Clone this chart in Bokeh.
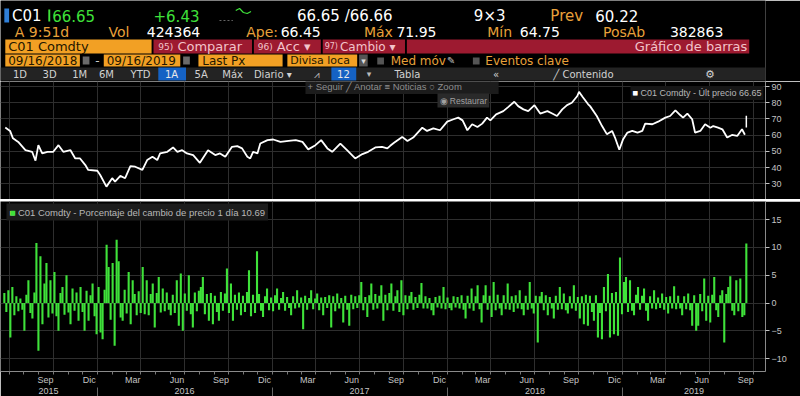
import pandas as pd
from bokeh.plotting import figure
from bokeh.layouts import column
from bokeh.models import Range1d, FixedTicker, Label, LinearAxis
from bokeh.core.properties import value
from bokeh.embed import file_html
from bokeh.resources import INLINE

# ---------------- data ----------------
price_dates = [
    "2015-06-23", "2015-07-03", "2015-07-09", "2015-07-20", "2015-08-04", "2015-08-18", "2015-08-25", "2015-08-31", "2015-09-08", "2015-09-19",
    "2015-10-01", "2015-10-12", "2015-10-22", "2015-11-06", "2015-11-16", "2015-11-26", "2015-12-07", "2015-12-13", "2016-01-01", "2016-01-07",
    "2016-01-20", "2016-02-01", "2016-02-07", "2016-02-18", "2016-02-28", "2016-03-10", "2016-03-20", "2016-04-04", "2016-04-14", "2016-04-25",
    "2016-05-05", "2016-05-11", "2016-05-26", "2016-06-07", "2016-06-16", "2016-06-26", "2016-07-06", "2016-07-19", "2016-08-02", "2016-08-19",
    "2016-09-03", "2016-09-13", "2016-09-24", "2016-10-08", "2016-10-19", "2016-10-29", "2016-11-09", "2016-11-15", "2016-11-21", "2016-11-30",
    "2016-12-06", "2016-12-21", "2017-01-02", "2017-01-17", "2017-02-03", "2017-02-18", "2017-03-04", "2017-03-16", "2017-03-31", "2017-04-12",
    "2017-04-25", "2017-05-05", "2017-05-22", "2017-06-05", "2017-06-22", "2017-07-07", "2017-07-19", "2017-08-03", "2017-08-17", "2017-08-28",
    "2017-09-03", "2017-09-11", "2017-09-28", "2017-10-09", "2017-10-21", "2017-11-09", "2017-11-19", "2017-12-02", "2017-12-16", "2017-12-31",
    "2018-01-13", "2018-01-23", "2018-02-01", "2018-02-11", "2018-02-21", "2018-03-04", "2018-03-14", "2018-03-24", "2018-03-31", "2018-04-12",
    "2018-04-27", "2018-05-07", "2018-05-20", "2018-05-28", "2018-06-08", "2018-06-18", "2018-07-01", "2018-07-13", "2018-07-28", "2018-08-07",
    "2018-08-17", "2018-08-28", "2018-09-07", "2018-09-17", "2018-09-28", "2018-10-02", "2018-10-10", "2018-10-21", "2018-10-25", "2018-11-08",
    "2018-11-19", "2018-11-29", "2018-12-10", "2018-12-16", "2018-12-25", "2019-01-02", "2019-01-11", "2019-01-21", "2019-02-01", "2019-02-11",
    "2019-02-17", "2019-03-04", "2019-03-16", "2019-03-31", "2019-04-10", "2019-04-21", "2019-05-01", "2019-05-07", "2019-05-16", "2019-05-26",
    "2019-06-01", "2019-06-12", "2019-06-22", "2019-07-03", "2019-07-09", "2019-07-19", "2019-07-28", "2019-08-07", "2019-08-17", "2019-08-28",
    "2019-09-07", "2019-09-13",
]
price_values = [
    64.7, 62.6, 58.0, 55.8, 50.7, 49.7, 44.2, 53.8, 48.7, 49.7,
    49.7, 53.8, 49.7, 50.7, 45.6, 45.6, 41.5, 38.5, 38.0, 35.4,
    28.2, 33.4, 31.3, 34.8, 33.4, 40.9, 40.5, 38.5, 44.6, 46.6,
    44.6, 48.7, 49.7, 52.4, 49.7, 50.7, 48.7, 47.7, 42.9, 50.7,
    47.7, 48.7, 46.6, 52.8, 53.2, 51.8, 46.6, 45.6, 49.7, 48.7,
    54.8, 56.9, 57.3, 55.8, 56.4, 56.9, 55.8, 51.2, 53.8, 56.9,
    51.8, 49.7, 54.8, 50.7, 45.6, 48.3, 49.7, 52.4, 52.8, 51.8,
    53.4, 55.3, 58.9, 56.4, 58.5, 64.6, 62.6, 64.2, 63.0, 68.3,
    69.8, 70.8, 69.1, 63.0, 66.7, 65.0, 67.1, 70.8, 69.1, 72.8,
    74.8, 77.3, 80.6, 77.9, 75.9, 74.8, 78.5, 73.3, 74.8, 73.3,
    71.8, 75.9, 78.5, 80.0, 84.0, 86.7, 83.4, 79.0, 77.9, 71.8,
    65.6, 60.6, 62.6, 58.5, 51.0, 57.5, 61.6, 62.6, 61.6, 62.6,
    67.1, 66.7, 68.3, 70.8, 71.8, 75.3, 72.4, 70.8, 73.3, 69.8,
    61.6, 62.6, 66.7, 64.6, 65.6, 64.6, 63.6, 58.5, 60.1, 59.5,
    63.6, 60.22,
]
last_date = "2019-09-16"
last_low, last_high, last_px = 64.75, 71.95, 66.65

pct_first, pct_last = "2015-06-21", "2019-09-16"
pct_values = [
    1.8, -1.6, 2.3, -6.2, 2.9, -2.2, 1.2, -1.5, 0.8, -1.2,
    -5.0, 1.5, 4.1, -1.8, -2.8, 1.9, 10.8, -8.6, 8.4, -3.8,
    3.5, 7.2, -2.6, 4.1, -1.9, 5.6, -2.4, -5.0, 1.8, 2.9,
    -2.1, 5.0, -1.7, -3.8, 2.6, -1.4, 1.9, -3.2, 2.9, -1.6,
    -5.0, 2.2, -3.2, 1.4, 3.5, -2.4, -5.6, 2.9, -5.3, -6.5,
    2.4, 10.5, 6.5, -3.0, 7.2, -7.7, 11.4, 7.5, -2.6, -3.2,
    2.4, -1.9, 5.6, -3.8, 4.1, 1.6, -2.2, 2.1, -1.8, 6.5,
    -2.0, 4.1, -2.2, 1.6, 3.5, -4.4, 1.8, 4.7, -1.7, 2.6,
    -1.5, 1.9, -1.2, -2.2, 1.5, -1.8, 4.1, -4.1, 5.3, -5.0,
    1.7, -1.4, 5.0, -2.0, -4.4, 1.9, -1.5, 2.2, 2.9, 4.7,
    -2.0, 1.6, -3.2, 1.8, -3.8, 1.3, -1.6, -3.2, 2.0, -1.4,
    1.7, 6.2, -1.8, 3.5, -3.2, 1.5, -1.2, 1.9, -2.2, 1.3,
    -1.6, 2.0, 5.9, -2.4, 1.5, -1.8, 9.3, 1.6, -1.4, -2.5,
    1.2, 2.6, -1.3, 1.0, -1.5, 1.4, 2.6, -1.2, 0.9, 2.0,
    -1.4, 1.1, -0.9, -2.2, 1.2, -1.0, 2.3, -0.8, 1.0, -4.7,
    1.3, -1.2, 0.9, 2.3, -1.1, 0.8, 1.7, -1.3, 1.0, -2.2,
    1.1, -0.9, 1.4, -4.4, 1.2, -1.5, 1.7, -1.0, 0.9, -3.5,
    1.3, -1.2, -4.1, 1.5, -1.1, 1.2, -0.9, 1.4, 3.8, -1.3,
    1.1, -2.5, 1.4, 3.5, -1.2, 1.6, -1.0, 1.3, 3.2, -3.2,
    1.5, -1.3, 1.8, 3.5, -1.4, 1.2, 2.3, -1.6, 4.1, -2.2,
    1.4, -1.1, 1.3, 2.0, -1.2, 1.1, -0.9, 1.5, 3.6, -1.0,
    1.2, -1.0, 0.9, -1.3, -2.2, 1.1, -0.8, 1.3, -1.0, 2.9,
    -1.1, 1.0, -0.9, -1.3, 1.2, -0.8, 1.1, -1.0, 1.4, -1.2,
    -2.8, 1.3, -1.0, 2.6, -1.4, 1.2, 3.2, -1.1, -3.5, 1.4,
    3.2, -1.2, 1.3, -2.5, 3.8, -1.3, 1.5, -1.0, -2.2, 1.4,
    -1.1, 3.5, -1.2, 1.2, -1.6, 1.4, -1.0, 2.3, -1.1, -2.2,
    1.3, -1.2, 3.8, -1.0, -1.9, 1.3, -7.1, 1.2, 2.0, -1.3,
    1.4, -2.2, 1.1, -1.0, -2.8, 1.3, -1.2, 2.9, -1.1, 1.7,
    -1.3, -1.9, 1.2, -1.0, 3.2, -1.4, 1.1, -2.8, 1.2, -3.8,
    1.5, -4.1, 1.3, -1.6, -3.2, 1.4, -6.2, -1.8, -6.5, 2.9,
    -1.5, 5.2, -6.2, 1.8, -5.6, 2.0, -5.9, 8.2, -2.0, 3.8,
    4.7, -1.6, 4.1, -1.4, -2.2, 1.5, 2.9, -1.2, 1.3, 2.6,
    -1.4, -3.2, 1.2, -1.0, 2.3, -1.1, 1.0, -0.9, 1.7, -1.2,
    1.1, -1.9, 1.2, -1.0, 3.0, -1.1, 1.3, -1.0, -2.2, 1.2,
    -1.1, 1.7, -1.3, -4.1, 1.4, -5.0, -4.1, 1.6, -1.5, 4.4,
    -3.2, 1.3, -3.5, 1.5, 4.7, -1.3, -2.5, 1.4, 2.3, -7.1,
    1.6, 2.9, 4.8, -1.4, -2.2, 4.1, -1.5, 4.4, -2.5, -2.2,
    10.69,
]

price_ticks = [30, 40, 50, 60, 70, 80, 90]
pct_ticks = [-10, -5, 0, 5, 10, 15]
month_tick_dates = ["2015-09-15", "2015-12-15", "2016-03-15", "2016-06-15", "2016-09-15", "2016-12-15",
                    "2017-03-15", "2017-06-15", "2017-09-15", "2017-12-15", "2018-03-15", "2018-06-15",
                    "2018-09-15", "2018-12-15", "2019-03-15", "2019-06-15", "2019-09-15"]
month_tick_labels = ["Sep", "Dic", "Mar", "Jun", "Sep", "Dic", "Mar", "Jun", "Sep", "Dic",
                     "Mar", "Jun", "Sep", "Dic", "Mar", "Jun", "Sep"]
year_tick_dates = ["2015-09-21", "2016-07-01", "2017-07-01", "2018-07-02", "2019-05-30"]
year_tick_labels = ["2015", "2016", "2017", "2018", "2019"]
year_starts = ["2016-01-01", "2017-01-01", "2018-01-01", "2019-01-01"]
view_start, view_end = "2015-06-13", "2019-10-26"

# ---------------- helpers ----------------
def ms(d):
    return int(pd.Timestamp(d).value // 10**6)

month_starts = [ms(d) for d in pd.date_range("2015-07-01", "2019-10-01", freq="MS")]
quarter_starts = [ms(d) for d in pd.date_range("2015-07-01", "2019-10-01", freq="QS")]

FONT = "DejaVu Sans"
AXF = "Liberation Sans"
ORANGE = "#f2a024"
ORANGE_T = "#e8a03a"
RED = "#9d1a30"
PINK = "#f2c3ca"
GREEN = "#3fe23a"
GRID = "#2e2e2e"
AXC = "#8a8a8a"
TICKC = "#c4c4c4"

# ---------------- header ----------------
hdr = figure(width=800, height=81, x_range=Range1d(0, 800), y_range=Range1d(81, 0),
             x_axis_type=None, y_axis_type=None, output_backend="svg", toolbar_location=None,
             min_border_left=0, min_border_right=0, min_border_top=0, min_border_bottom=0)
hdr.background_fill_color = "black"
hdr.border_fill_color = "black"
hdr.outline_line_color = None


def hbox(l, r, t, b, color):
    hdr.quad(left=[l], right=[r], top=[t], bottom=[b], fill_color=color, line_color=None)


def htext(x, y, s, color, size, align="left", font=FONT):
    hdr.text(x=[x], y=[y], text=[s], text_color=color, text_font_size=f"{size}px",
             text_align=align, text_baseline="middle", text_font=value(font))

# row 1
hbox(4, 9, 8, 22, "#2f7fd8")
htext(12, 15, "C01", "white", 15)
hbox(50, 52, 9, 21, GREEN)
htext(54, 15, "66.65", GREEN, 15)
htext(160, 15, "+6.43", GREEN, 15)
hdr.line(x=[246, 250, 254, 258, 262], y=[10, 8, 12, 13, 11], line_color=GREEN, line_width=1.2)
hdr.line(x=[229, 243], y=[20, 20], line_color="#666666", line_width=1, line_dash="2 2")
htext(310, 15, "66.65 /66.66", "white", 15)
htext(495, 15, "9×3", "white", 15)
htext(575, 15, "Prev", ORANGE_T, 15)
htext(622, 15, "60.22", "white", 15)
# row 2
htext(15, 31, "A 9:51d", ORANGE_T, 14)
htext(113, 31, "Vol", ORANGE_T, 14)
htext(153, 31, "424364", "white", 14)
htext(257, 31, "Ape:", ORANGE_T, 14)
htext(293, 31, "66.45", "white", 14)
htext(380, 31, "Máx", ORANGE_T, 14)
htext(414, 31, "71.95", "white", 14)
htext(509, 31, "Mín", ORANGE_T, 14)
htext(543, 31, "64.75", "white", 14)
htext(630, 31, "PosAb", ORANGE_T, 14)
htext(700, 31, "382863", "white", 14)
# row 3
hbox(5, 158, 39, 53, ORANGE)
htext(8, 46, "C01 Comdty", "#231700", 13)
hbox(160, 263, 39, 53, RED)
htext(165, 46, "95)", PINK, 9)
htext(185, 46, "Comparar", PINK, 13)
hbox(265, 335, 39, 53, RED)
htext(269, 46, "96)", PINK, 9)
htext(289, 46, "Acc ▾", PINK, 13)
hbox(337, 423, 39, 53, RED)
htext(339, 46, "97)", PINK, 8)
htext(355, 46, "Cambio ▾", PINK, 12)
hbox(425, 783, 39, 53, RED)
htext(781, 46, "Gráfico de barras", PINK, 13, align="right")
# row 4
hbox(5, 83, 54, 66, ORANGE)
htext(8, 60, "09/16/2018", "#231700", 12)
hbox(86, 93, 56, 64, "#6a6a6a")
htext(99, 60, "-", "#cccccc", 12)
hbox(108, 188, 54, 66, ORANGE)
htext(111, 60, "09/16/2019", "#231700", 12)
hbox(191, 198, 56, 64, "#6a6a6a")
hbox(207, 295, 54, 66, ORANGE)
htext(211, 60, "Last Px", "#231700", 12)
hbox(300, 373, 54, 66, ORANGE)
htext(303, 60, "Divisa loca", "#231700", 11)
hbox(375, 384, 54, 66, "#555555")
htext(379.5, 60, "▾", "#dddddd", 9, align="center")
hbox(394, 401, 57, 64, "#555555")
htext(408, 60, "Med móv", ORANGE_T, 12)
htext(467, 60, "✎", "#bbbbbb", 10)
hbox(494, 501, 57, 64, "#555555")
htext(507, 60, "Eventos clave", ORANGE_T, 12)
# row 5 toolbar
hbox(0, 800, 67, 80, "#232323")
for xx, s in [(13, "1D"), (44, "3D"), (75, "1M"), (103, "6M"), (136, "YTD"), (203, "5A"),
              (232, "Máx"), (265, "Diario ▾"), (412, "Tabla"), (515, "«"), (578, "╱ Contenido")]:
    htext(xx, 73.5, s, "#d2d2d2", 10)
hbox(165, 194, 67, 80, "#1562c4")
htext(172, 73.5, "1A", "#e8e8e8", 10)
htext(328, 73.5, "⩘", "#bbbbbb", 10)
hbox(346, 372, 67, 80, "#1562c4")
htext(352, 73.5, "12", "#e8e8e8", 10)
htext(383, 73.5, "▾", "#bbbbbb", 9)
htext(742, 73.5, "⚙", "#d2d2d2", 11, align="center")

# ---------------- price panel ----------------
xr = Range1d(ms(view_start), ms(view_end))
pf = figure(width=800, height=118, x_axis_type="datetime", x_axis_location=None,
            y_axis_location="right", x_range=xr, y_range=Range1d(20.25, 93.1),
            output_backend="svg", toolbar_location=None,
            min_border_left=0, min_border_right=35, min_border_top=0, min_border_bottom=0)
pf.background_fill_color = "black"
pf.border_fill_color = "black"
pf.outline_line_color = None
pf.xgrid.ticker = FixedTicker(ticks=quarter_starts)
pf.ygrid.ticker = FixedTicker(ticks=price_ticks)
pf.grid.grid_line_color = GRID
pf.line(x=pd.to_datetime(price_dates), y=price_values, line_color="white", line_width=1.8)
pf.segment(x0=[pd.Timestamp(last_date)], y0=[last_low], x1=[pd.Timestamp(last_date)], y1=[last_high],
           line_color="white", line_width=1.5)
ya = pf.yaxis[0]
ya.ticker = FixedTicker(ticks=price_ticks)
ya.axis_line_color = AXC
ya.major_tick_line_color = TICKC
ya.major_tick_out = 4
ya.major_tick_in = 0
ya.minor_tick_line_color = None
ya.major_label_text_color = TICKC
ya.major_label_text_font = AXF
ya.major_label_text_font_size = "9px"
ya.major_label_standoff = 2


def flabel(fig, x, y, s, color, size, bg=None, align="left", font=AXF, pad=2):
    fig.add_layout(Label(x=x, y=y, x_units="screen", y_units="screen", text=s, text_color=color,
                         text_font_size=f"{size}px", text_align=align, text_baseline="middle",
                         text_font=font, background_fill_color=bg, padding=pad))

# overlays (frame-relative screen coords: y measured up from frame bottom)
flabel(pf, 305, 113, "+  Seguir    ╱  Anotar    ≡  Noticias    ○  Zoom", "#8e8e8e", 9.5, bg="#1c1c1c", pad=2)
flabel(pf, 437, 99, "◉ Restaurar", "#a0a0a0", 8.5, bg="#2a2a2a", pad=2)
flabel(pf, 630, 106.5, "■ C01 Comdty - Últ precio 66.65", "#b8b8b8", 9, bg="#161616", pad=2)
flabel(pf, 632, 106.5, "■", "white", 9, bg=None, pad=0)
flabel(pf, 768, 76.5, "66.65", "black", 8, bg="white", pad=1)

# separator
sep = figure(width=800, height=2, x_axis_location=None, y_axis_location=None,
             output_backend="svg", toolbar_location=None,
             min_border_left=0, min_border_right=7, min_border_top=0, min_border_bottom=0)
sep.background_fill_color = "#8c8c8c"
sep.border_fill_color = "black"
sep.outline_line_color = None
sep.grid.visible = False

# ---------------- pct change panel ----------------
vf = figure(width=800, height=195, x_axis_type="datetime", y_axis_location="right",
            x_range=xr, y_range=Range1d(-12.32, 18.26),
            output_backend="svg", toolbar_location=None,
            min_border_left=0, min_border_right=35, min_border_top=0, min_border_bottom=25)
vf.background_fill_color = "black"
vf.border_fill_color = "black"
vf.outline_line_color = None
vf.xgrid.ticker = FixedTicker(ticks=quarter_starts)
vf.ygrid.ticker = FixedTicker(ticks=pct_ticks)
vf.grid.grid_line_color = GRID
pct_dates = pd.date_range(pct_first, pct_last, periods=len(pct_values))
vf.segment(x0=pct_dates, y0=0, x1=pct_dates, y1=pct_values, line_color=GREEN, line_width=2.1)

vy = vf.yaxis[0]
vy.ticker = FixedTicker(ticks=pct_ticks)
vy.axis_line_color = AXC
vy.major_tick_line_color = TICKC
vy.major_tick_out = 4
vy.major_tick_in = 0
vy.minor_tick_line_color = None
vy.major_label_text_color = TICKC
vy.major_label_text_font = AXF
vy.major_label_text_font_size = "9px"
vy.major_label_standoff = 2

mx = vf.xaxis[0]
mx.ticker = FixedTicker(ticks=[ms(d) for d in month_tick_dates], minor_ticks=month_starts)
mx.major_label_overrides = {ms(d): lab for d, lab in zip(month_tick_dates, month_tick_labels)}
mx.axis_line_color = AXC
mx.major_tick_out = 0
mx.major_tick_in = 0
mx.major_tick_line_color = None
mx.minor_tick_out = 3
mx.minor_tick_in = 0
mx.minor_tick_line_color = "#777777"
mx.major_label_text_color = TICKC
mx.major_label_text_font = AXF
mx.major_label_text_font_size = "9px"
mx.major_label_standoff = 0

# year row: second axis below, separators at Jan 1 drawn as its minor ticks
yx = LinearAxis(ticker=FixedTicker(ticks=[ms(d) for d in year_tick_dates],
                                   minor_ticks=[ms(d) for d in year_starts]))
yx.major_label_overrides = {ms(d): lab for d, lab in zip(year_tick_dates, year_tick_labels)}
yx.axis_line_color = None
yx.major_tick_line_color = None
yx.major_tick_out = 0
yx.major_tick_in = 0
yx.minor_tick_out = 10
yx.minor_tick_in = 0
yx.minor_tick_line_color = "#666666"
yx.major_label_text_color = TICKC
yx.major_label_text_font = AXF
yx.major_label_text_font_size = "9px"
yx.major_label_standoff = -10
vf.add_layout(yx, "below")

flabel(vf, 6, 159.5, "■ C01 Comdty - Porcentaje del cambio de precio 1 día 10.69", "#b8b8b8", 9.5,
       bg="#1c1c1c", pad=3)
flabel(vf, 9, 159.5, "■", GREEN, 10, bg=None, pad=0)
flabel(vf, 768, 130, "10.69", "#0b2a0b", 8, bg=GREEN, pad=1)

layout = column(hdr, pf, sep, vf, spacing=0)
open("out.html", "w").write(file_html(layout, INLINE))
